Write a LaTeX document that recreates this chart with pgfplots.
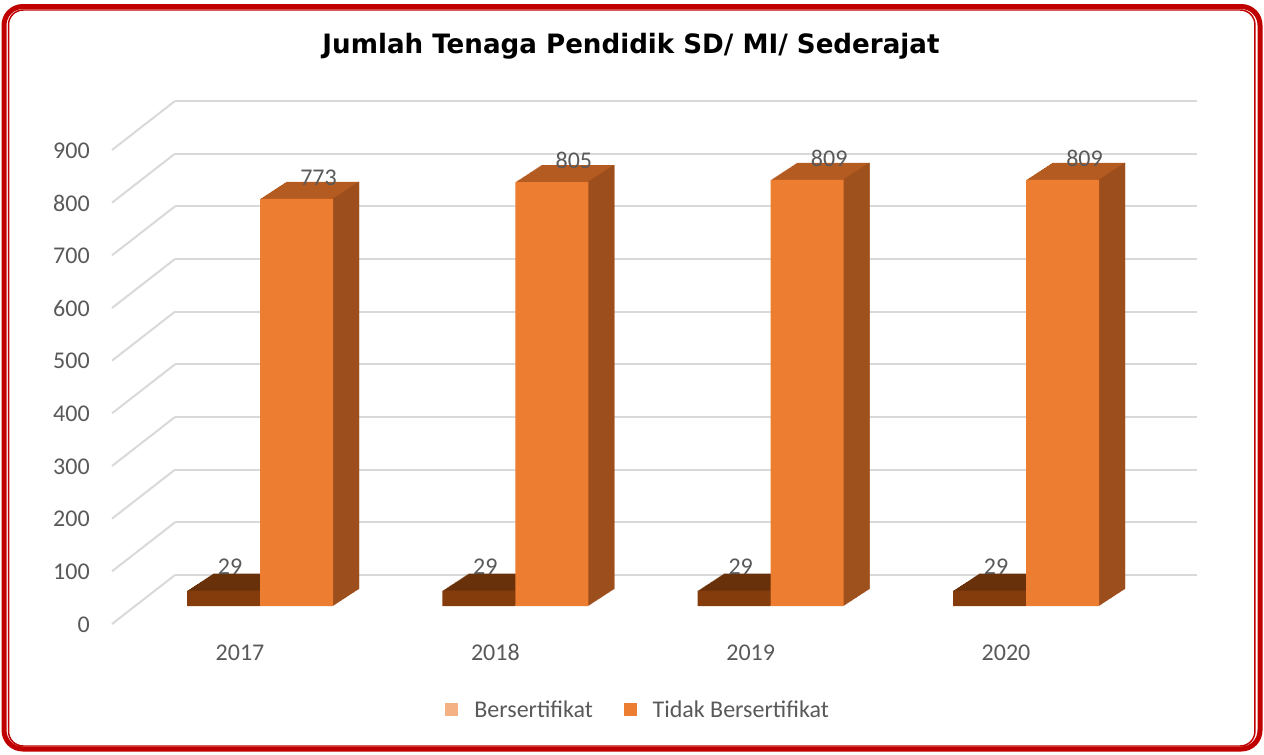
\documentclass[border=0pt]{standalone}
\usepackage{pgfplots}
\usepackage{pgfplotstable}
\pgfplotsset{compat=1.18}
\usepackage{fontspec}
\setmainfont{Carlito}
\newfontfamily\titlefont[FakeStretch=0.98]{DejaVu Sans}
\definecolor{orfront}{HTML}{ED7D31}
\definecolor{ortop}{HTML}{B45B22}
\definecolor{orside}{HTML}{9C4F1D}
\definecolor{brfront}{HTML}{843C0C}
\definecolor{brtop}{HTML}{693109}
\definecolor{lightor}{HTML}{F4B183}
\definecolor{gridc}{HTML}{D9D9D9}
\definecolor{txt}{HTML}{595959}
\definecolor{frame}{HTML}{C00000}
\pgfplotstableread{
x y
0 29
1 29
2 29
3 29
}\bers
\pgfplotstableread{
x y
0 773
1 805
2 809
3 809
}\tidak
\begin{document}
\begin{tikzpicture}
\useasboundingbox (0,0) rectangle (948pt,565.5pt);
% back wall with grid
\begin{axis}[at={(131.25pt,134.25pt)}, anchor=south west, scale only axis,
  width=766.5pt, height=355.5pt, xmin=0, xmax=1, ymin=0, ymax=900,
  axis line style={draw=none}, xtick=\empty, ytick={0,100,...,900},
  ymajorgrids, grid style={gridc, line width=1.5pt}, major tick length=0pt,
  /pgf/number format/assume math mode=true,
  yticklabel style={font=\fontsize{18}{18}\selectfont, text=txt, anchor=east,
    inner sep=0pt, xshift=-63.75pt, yshift=-37.1pt},
  clip=false]
\addplot[draw=none, forget plot] coordinates {(0,0) (1,0)};
\pgfplotsinvokeforeach{0,100,200,300,400,500,600,700,800,900}{
  \draw[gridc, line width=1.5pt] (axis cs:0,#1) -- ++(-47.25pt,-36.75pt);
}
\end{axis}
% bars
\begin{axis}[at={(80.1pt,111pt)}, anchor=south west, scale only axis,
  width=823.45pt, height=355.5pt, xmin=-0.6, xmax=3.7, ymin=0, ymax=900,
  axis line style={draw=none}, ytick=\empty, xtick={0,1,2,3},
  xticklabels={2017,2018,2019,2020}, major tick length=0pt,
  /pgf/number format/assume math mode=true,
  xticklabel style={font=\fontsize{18}{18}\selectfont, text=txt, anchor=center,
    inner sep=0pt, xshift=-15pt, yshift=-35pt},
  clip=false,
  legend style={at={(0.483,-0.219)}, anchor=center, draw=none, fill=none,
    legend columns=2, font=\fontsize{18}{18}\selectfont, text=txt,
    nodes={inner sep=0pt},
    /tikz/every odd column/.append style={column sep=12pt},
    /tikz/every even column/.append style={column sep=23pt}},
  legend image code/.code={\fill[#1] (0pt,-4.875pt) rectangle (9.75pt,4.875pt);}
]
\pgfplotsinvokeforeach{26,25,...,1}{
  \addplot[ybar, bar width=54.75pt, bar shift=-27.375pt, fill=brtop, draw=none,
    forget plot, xshift=#1*0.75pt, yshift=#1*0.4904pt] table[x=x,y=y]{\bers};
}
\addplot[ybar, bar width=54.75pt, bar shift=-27.375pt, fill=brfront, draw=none,
  forget plot, nodes near coords,
  nodes near coords style={font=\fontsize{18}{18}\selectfont, text=txt,
    anchor=center, inner sep=0pt, xshift=-22.5pt, yshift=18pt}]
  table[x=x,y=y]{\bers};
\pgfplotsinvokeforeach{26,25,...,1}{
  \addplot[ybar, bar width=54.75pt, bar shift=27.375pt, fill=ortop, draw=none,
    forget plot, xshift=#1*0.75pt, yshift=#1*0.4904pt] table[x=x,y=y]{\tidak};
}
\pgfplotsinvokeforeach{26,25,...,1}{
  \addplot[ybar, bar width=0.9pt, bar shift=54.3pt, fill=orside, draw=none,
    forget plot, xshift=#1*0.75pt, yshift=#1*0.4904pt] table[x=x,y=y]{\tidak};
}
\addplot[ybar, bar width=54.75pt, bar shift=27.375pt, fill=orfront, draw=none,
  forget plot, nodes near coords,
  nodes near coords style={font=\fontsize{18}{18}\selectfont, text=txt,
    anchor=center, inner sep=0pt, xshift=43.9pt, yshift=16.1pt}]
  table[x=x,y=y]{\tidak};
\addlegendimage{fill=lightor, draw=none}
\addlegendentry{Bersertifikat}
\addlegendimage{fill=orfront, draw=none}
\addlegendentry{Tidak Bersertifikat}
\end{axis}
\node[anchor=base, font=\titlefont\bfseries\fontsize{20}{20}\selectfont]
  at (473.25pt,525.4pt) {Jumlah Tenaga Pendidik SD/ MI/ Sederajat};
\draw[frame, line width=3.75pt, rounded corners=14pt] (3pt,3.75pt) rectangle (945pt,560.6pt);
\draw[frame, line width=1.1pt, rounded corners=11pt] (6.4pt,6pt) rectangle (941.2pt,558pt);
\end{tikzpicture}
\end{document}
